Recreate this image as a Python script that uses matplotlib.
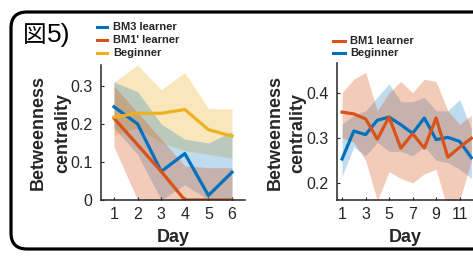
import matplotlib
matplotlib.use("Agg")
import matplotlib.pyplot as plt
from matplotlib.lines import Line2D
from matplotlib.patches import FancyBboxPatch
import numpy as np

# ---------------- data ----------------
days_left = [1, 2, 3, 4, 5, 6]
bm3_mean = [0.245, 0.200, 0.075, 0.122, 0.012, 0.073]
bm3_upper = [0.31, 0.285, 0.20, 0.16, 0.15, 0.18]
bm3_lower = [0.19, 0.12, 0.0, 0.04, 0.0, 0.0]
bm1p_mean = [0.215, 0.145, 0.075, 0.0, 0.0, 0.0]
bm1p_upper = [0.30, 0.23, 0.16, 0.09, 0.085, 0.085]
bm1p_lower = [0.14, 0.0, 0.0, 0.0, 0.0, 0.0]
beg_l_mean = [0.218, 0.228, 0.228, 0.238, 0.185, 0.168]
beg_l_upper = [0.31, 0.355, 0.29, 0.335, 0.24, 0.24]
beg_l_lower = [0.17, 0.19, 0.15, 0.13, 0.12, 0.11]

days_right = [1, 2, 3, 4, 5, 6, 7, 8, 9, 10, 11, 12]
bm1_mean = [0.357, 0.353, 0.342, 0.297, 0.346, 0.277, 0.309, 0.277, 0.344, 0.257, 0.279, 0.299]
bm1_upper = [0.40, 0.43, 0.445, 0.36, 0.40, 0.425, 0.40, 0.43, 0.425, 0.36, 0.33, 0.35]
bm1_lower = [0.30, 0.29, 0.25, 0.16, 0.225, 0.21, 0.20, 0.22, 0.23, 0.14, 0.16, 0.25]
beg_r_mean = [0.253, 0.315, 0.307, 0.339, 0.346, 0.329, 0.310, 0.344, 0.296, 0.301, 0.292, 0.256]
beg_r_upper = [0.33, 0.35, 0.36, 0.39, 0.42, 0.38, 0.38, 0.39, 0.36, 0.36, 0.385, 0.32]
beg_r_lower = [0.215, 0.28, 0.26, 0.29, 0.27, 0.27, 0.26, 0.28, 0.25, 0.245, 0.23, 0.21]

left_yticks = [0, 0.1, 0.2, 0.3]
left_yticklabels = ["0", "0.1", "0.2", "0.3"]
right_yticks = [0.2, 0.3, 0.4]
right_yticklabels = ["0.2", "0.3", "0.4"]
right_xticks = [1, 3, 5, 7, 9, 11]

BLUE = "#0072BD"
ORANGE = "#D95319"
YELLOW = "#EDB120"

W, H = 473, 257
fig = plt.figure(figsize=(W / 100, H / 100), dpi=100)
plt.rcParams['font.family'] = ['Liberation Sans', 'DejaVu Sans']


def fax(x0, y0, x1, y1):
    return fig.add_axes([x0 / W, 1 - y1 / H, (x1 - x0) / W, (y1 - y0) / H])


def style(ax):
    for s in ["top", "right"]:
        ax.spines[s].set_visible(False)
    for s in ["left", "bottom"]:
        ax.spines[s].set_linewidth(1.1)
        ax.spines[s].set_color("#262626")
    ax.tick_params(direction="in", length=2.5, width=0.8, labelsize=11.5,
                   colors="#262626")
    ax.tick_params(axis="y", pad=6)
    ax.tick_params(axis="x", pad=5)


# ---------------- left axes ----------------
axL = fax(101, 65, 245, 200)
style(axL)
for up, lo, c, a in [(beg_l_upper, beg_l_lower, YELLOW, 0.3),
                     (bm3_upper, bm3_lower, BLUE, 0.25),
                     (bm1p_upper, bm1p_lower, ORANGE, 0.3)]:
    axL.fill_between(days_left, lo, up, color=c, alpha=a, lw=0)
axL.plot(days_left, bm3_mean, color=BLUE, lw=2.3)
axL.plot(days_left, bm1p_mean, color=ORANGE, lw=2.3)
axL.plot(days_left, beg_l_mean, color=YELLOW, lw=2.3)
axL.set_xlim(0.45, 6.55)
axL.set_ylim(0, 0.355)
axL.set_xticks(days_left)
axL.set_yticks(left_yticks)
axL.set_yticklabels(left_yticklabels)

# ---------------- right axes ----------------
axR = fax(337, 63, 479, 200)
style(axR)
axR.fill_between(days_right, beg_r_lower, beg_r_upper, color=BLUE, alpha=0.25, lw=0)
axR.fill_between(days_right, bm1_lower, bm1_upper, color=ORANGE, alpha=0.3, lw=0)
axR.plot(days_right, beg_r_mean, color=BLUE, lw=2.3)
axR.plot(days_right, bm1_mean, color=ORANGE, lw=2.3)
axR.set_xlim(0.57, 12.65)
axR.set_ylim(0.162, 0.466)
axR.set_xticks(right_xticks)
axR.set_yticks(right_yticks)
axR.set_yticklabels(right_yticklabels)

# ---------------- labels ----------------
def ftext(x, y, s, **kw):
    fig.text(x / W, 1 - y / H, s, **kw)

for xc, s in [(38, "Betweenness"), (63, "centrality"),
              (275, "Betweenness"), (298, "centrality")]:
    ftext(xc, 133, s, rotation=90, ha="center", va="center",
          fontsize=13, fontweight="bold", color="#262626")
ftext(173, 238, "Day", ha="center", va="center", fontsize=13,
      fontweight="bold", color="#262626")
ftext(405, 238, "Day", ha="center", va="center", fontsize=13,
      fontweight="bold", color="#262626")

# legends
def leg(x0, x1, xt, y, c, s):
    fig.add_artist(Line2D([x0 / W, x1 / W], [1 - y / H, 1 - y / H],
                          color=c, lw=2.2, transform=fig.transFigure))
    ftext(xt, y, s, ha="left", va="center", fontsize=8, fontweight="bold",
          color="#262626")

leg(97, 107, 113, 27, BLUE, "BM3 learner")
leg(97, 107, 113, 40, ORANGE, "BM1' learner")
leg(97, 107, 113, 53, YELLOW, "Beginner")
leg(333, 345, 350, 41, ORANGE, "BM1 learner")
leg(333, 345, 350, 53, BLUE, "Beginner")

# title
ftext(23, 35, "図", ha="left", va="center", fontsize=17,
      family=["Noto Sans CJK JP", "DejaVu Sans"], color="black")
ftext(47, 35, "5)", ha="left", va="center", fontsize=19, color="black")

# rounded border
box = FancyBboxPatch((0.11, 0.08), 5.2, 2.37,
                     boxstyle="round,pad=0,rounding_size=0.16",
                     transform=fig.dpi_scale_trans, fc="none", ec="black",
                     lw=2.3)
fig.add_artist(box)

fig.savefig("out.png", dpi=100)
